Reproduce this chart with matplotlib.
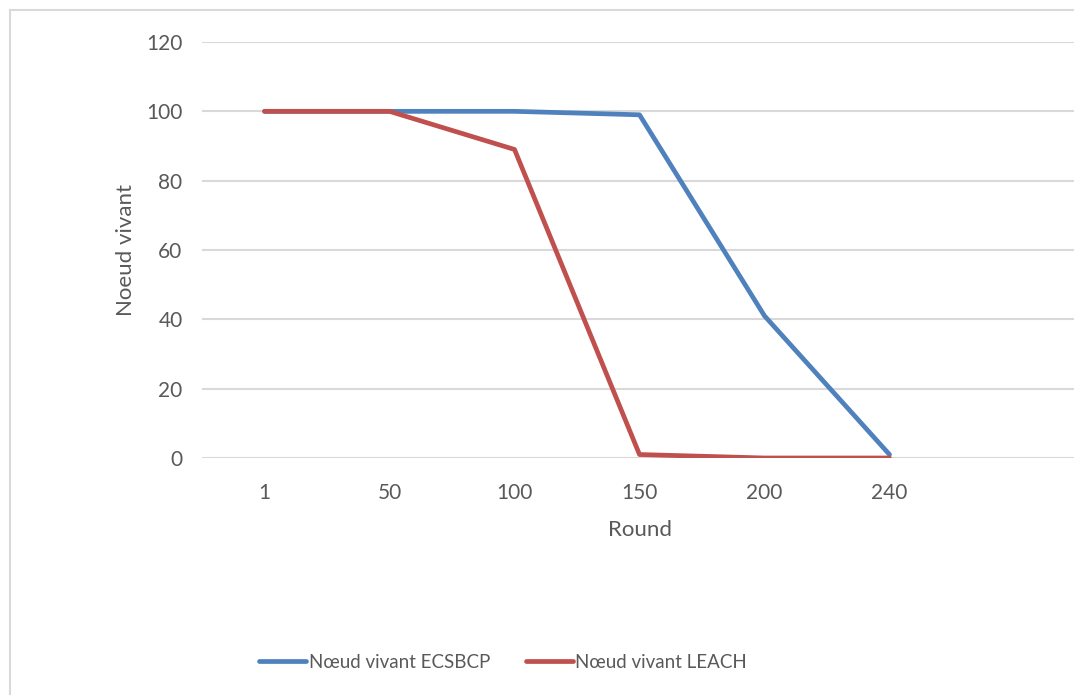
import matplotlib
matplotlib.use("Agg")
import matplotlib.pyplot as plt
from matplotlib.lines import Line2D

# Data
rounds = ["1", "50", "100", "150", "200", "240", ""]
ecsbcp = [100, 100, 100, 99, 41, 1]
leach = [100, 100, 89, 1, 0, 0]
y_ticks = [0, 20, 40, 60, 80, 100, 120]

blue = "#4F81BD"
red = "#C0504D"
grid = "#D9D9D9"
txt = "#595959"

plt.rcParams['font.family'] = ['Lato', 'DejaVu Sans']

fig = plt.figure(figsize=(10.74, 6.95), dpi=100)
W, H = 1074, 695

# outer chart frame (only left/top visible in the crop)
fig.add_artist(Line2D([10 / W, 10 / W], [0, 1 - 10 / H], color=grid, lw=1.5))
fig.add_artist(Line2D([10 / W, 1], [1 - 10 / H, 1 - 10 / H], color=grid, lw=1.5))

ax = fig.add_axes([202 / W, 1 - 458 / H, 875 / W, 416 / H])
x = list(range(len(rounds)))
ax.plot(x[:len(ecsbcp)], ecsbcp, color=blue, lw=3.4, solid_capstyle="round", zorder=3)
ax.plot(x[:len(leach)], leach, color=red, lw=3.4, solid_capstyle="round", zorder=3)

ax.set_xlim(-0.5, len(rounds) - 0.5)
ax.set_ylim(0, 120)
ax.set_yticks(y_ticks)
ax.set_xticks(x)
ax.set_xticklabels(rounds)
ax.yaxis.grid(True, color=grid, lw=1.5)
ax.set_axisbelow(True)
for s in ax.spines.values():
    s.set_visible(False)
ax.tick_params(length=0, labelsize=15, colors=txt, pad=14)
ax.tick_params(axis="x", pad=18)
ax.set_xlabel("Round", fontsize=16, color=txt, labelpad=12)
ax.set_ylabel("Noeud vivant", fontsize=16, color=txt, labelpad=7)

handles = [Line2D([], [], color=blue, lw=3.4, solid_capstyle="round"),
           Line2D([], [], color=red, lw=3.4, solid_capstyle="round")]
fig.legend(handles, ["Nœud vivant ECSBCP", "Nœud vivant LEACH"],
           loc="center", bbox_to_anchor=(503 / W, 1 - 662 / H), ncol=2,
           frameon=False, fontsize=13.5, labelcolor=txt, handlelength=2.5,
           handletextpad=0.15, columnspacing=1.9)

fig.savefig("out.png", dpi=100)
